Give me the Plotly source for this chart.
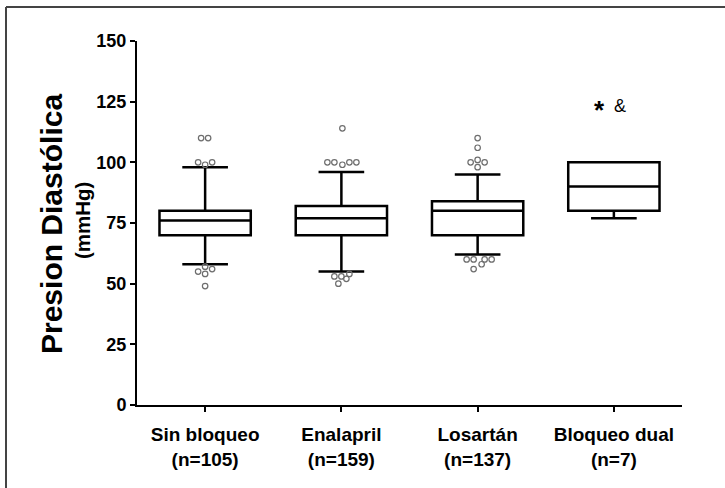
import plotly.graph_objects as go

# ---------------- data ----------------
categories = ["Sin bloqueo", "Enalapril", "Losartán", "Bloqueo dual"]
n_labels = ["(n=105)", "(n=159)", "(n=137)", "(n=7)"]

q1 = [70, 70, 70, 80]
median = [76, 77, 80, 90]
q3 = [80, 82, 84, 100]
lower_whisker = [58, 55, 62, 77]
upper_whisker = [98, 96, 95, 100]

# outliers per group (values) and their small horizontal spread (pixels) to avoid overlap
outliers_sin = [110, 110, 100, 99, 100, 57, 55, 54, 56, 49]
spread_sin = [-4, 3, -7, 0, 7, 0, -7, 0, 7, 0]
outliers_ena = [114, 100, 100, 99, 100, 100, 53, 53, 54, 50, 52]
spread_ena = [1, -14, -7, 1, 8, 15, -7, 0, 8, -3, 5]
outliers_los = [110, 106, 100, 101, 100, 98, 60, 60, 60, 60, 58, 56]
spread_los = [0, 0, -7, 0, 7, 0, -11, -4, 7, 14, 4, -4]
outliers_dual = []
spread_dual = []

y_ticks = [0, 25, 50, 75, 100, 125, 150]
significance_group = 3
significance_value = 124

# ---------------- layout constants ----------------
W, H = 725, 488
ML, MR, MT, MB = 137, 43, 41, 83
PW, PH = W - ML - MR, H - MT - MB
PX_PER_CAT = PW / 4.0
FONT = "Liberation Sans, Arial, Helvetica, sans-serif"


def px_to_paper_x(px):
    return (px - ML) / PW


def px_to_paper_y(py):
    return (H - MB - py) / PH


fig = go.Figure()

for i, cat in enumerate(categories):
    fig.add_trace(go.Box(
        x=[i], q1=[q1[i]], median=[median[i]], q3=[q3[i]],
        lowerfence=[lower_whisker[i]], upperfence=[upper_whisker[i]],
        width=0.67, whiskerwidth=0.5, boxpoints=False,
        line=dict(color="black", width=2.5), fillcolor="white",
        name=cat, showlegend=False, hoverinfo="skip",
    ))

for i, (vals, spread) in enumerate([(outliers_sin, spread_sin), (outliers_ena, spread_ena),
                                   (outliers_los, spread_los), (outliers_dual, spread_dual)]):
    if not vals:
        continue
    fig.add_trace(go.Scatter(
        x=[i + s / PX_PER_CAT for s in spread], y=vals, mode="markers",
        marker=dict(symbol="circle-open", size=5.5, color="#6e6e6e", line=dict(width=1.2, color="#6e6e6e")),
        showlegend=False, hoverinfo="skip",
    ))

fig.update_layout(
    width=W, height=H,
    margin=dict(l=ML, r=MR, t=MT, b=MB),
    paper_bgcolor="white", plot_bgcolor="white",
    font=dict(family=FONT, color="black"),
    xaxis=dict(
        range=[-0.5, 3.5], tickmode="array", tickvals=list(range(len(categories))),
        ticktext=[f"{c}<br>{n}" for c, n in zip(categories, n_labels)],
        tickfont=dict(family=FONT, size=19, weight="bold", color="black"),
        showline=True, linecolor="black", linewidth=2,
        ticks="outside", ticklen=5, tickwidth=2, tickcolor="black",
        ticklabelstandoff=6,
        showgrid=False, zeroline=False, fixedrange=True,
    ),
    yaxis=dict(
        range=[0, 150], tickmode="array", tickvals=y_ticks,
        tickfont=dict(family=FONT, size=18, weight="bold", color="black"),
        showline=True, linecolor="black", linewidth=2,
        ticks="outside", ticklen=5, tickwidth=2, tickcolor="black",
        showgrid=False, zeroline=False, fixedrange=True,
    ),
)

# axis title (two lines, different sizes)
fig.add_annotation(
    text="Presion Diastólica", textangle=-90, showarrow=False,
    xref="paper", yref="paper", x=px_to_paper_x(51), y=px_to_paper_y(224),
    xanchor="center", yanchor="middle",
    font=dict(family=FONT, size=30, weight="bold", color="black"),
)
fig.add_annotation(
    text="(mmHg)", textangle=-90, showarrow=False,
    xref="paper", yref="paper", x=px_to_paper_x(82), y=px_to_paper_y(221),
    xanchor="center", yanchor="middle",
    font=dict(family=FONT, size=20.5, weight="bold", color="black"),
)

# significance marks
fig.add_annotation(
    text="*", showarrow=False, x=significance_group, y=significance_value,
    xshift=-14, yshift=-6, xanchor="center", yanchor="middle",
    font=dict(family=FONT, size=26, weight="bold", color="black"),
)
fig.add_annotation(
    text="&", showarrow=False, x=significance_group, y=significance_value,
    xshift=6, yshift=-2, xanchor="center", yanchor="middle",
    font=dict(family=FONT, size=18, color="black"),
)

# frame lines (top and left) of the original figure panel
fig.add_shape(type="line", xref="paper", yref="paper",
              x0=px_to_paper_x(6), x1=px_to_paper_x(W), y0=px_to_paper_y(7), y1=px_to_paper_y(7),
              line=dict(color="#444444", width=2))
fig.add_shape(type="line", xref="paper", yref="paper",
              x0=px_to_paper_x(6), x1=px_to_paper_x(6), y0=px_to_paper_y(7), y1=px_to_paper_y(H),
              line=dict(color="#444444", width=2))

fig.write_html("out.html", config={"displayModeBar": False},
               post_script="document.body.style.margin='0';")
